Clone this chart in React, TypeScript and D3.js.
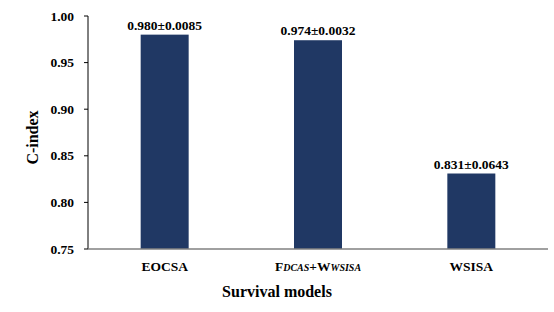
import React from "react";
import * as d3 from "d3";

const categories = ["EOCSA", "FDCAS+WWSISA", "WSISA"];
const values = [0.98, 0.974, 0.831];
const valueLabels = ["0.980±0.0085", "0.974±0.0032", "0.831±0.0643"];
const yTicks = [0.75, 0.8, 0.85, 0.9, 0.95, 1.0];

const W = 554;
const H = 312;
const margin = { left: 88, right: 6, top: 16, bottom: 63 };
const FONT = "'Liberation Serif', 'Times New Roman', serif";

export default function App() {
  const x = d3
    .scaleBand<string>()
    .domain(categories)
    .range([margin.left, W - margin.right])
    .paddingInner(0.687)
    .paddingOuter(0.3435);
  const y = d3.scaleLinear().domain([0.75, 1.0]).range([H - margin.bottom, margin.top]);
  const y0 = y(0.75);

  const renderCat = (c: string) => {
    if (c === "FDCAS+WWSISA") {
      return (
        <>
          <tspan>F</tspan>
          <tspan fontStyle="italic" fontSize={10}>DCAS</tspan>
          <tspan>+W</tspan>
          <tspan fontStyle="italic" fontSize={10}>WSISA</tspan>
        </>
      );
    }
    return c;
  };

  return (
    <svg
      width={W}
      height={H}
      style={{ position: "absolute", left: 0, top: 0, background: "#fff" }}
      fontFamily={FONT}
      fontWeight="bold"
    >
      {categories.map((c, i) => (
        <g key={c}>
          <rect
            x={x(c)}
            y={y(values[i])}
            width={x.bandwidth()}
            height={y0 - y(values[i])}
            fill="#203864"
          />
          <text
            x={(x(c) as number) + x.bandwidth() / 2}
            y={y(values[i]) - 5}
            textAnchor="middle"
            fontSize={13.5}
            fill="#000"
          >
            {valueLabels[i]}
          </text>
          <text
            x={(x(c) as number) + x.bandwidth() / 2}
            y={271}
            textAnchor="middle"
            fontSize={13.5}
            fill="#000"
          >
            {renderCat(c)}
          </text>
        </g>
      ))}
      <line x1={margin.left} x2={margin.left} y1={y(1.0)} y2={y0} stroke="#000" strokeWidth={1} />
      {yTicks.map((t) => (
        <g key={t}>
          <line x1={margin.left - 4} x2={margin.left} y1={y(t)} y2={y(t)} stroke="#000" />
          <text x={74} y={y(t) + 4.5} textAnchor="end" fontSize={13.5} fill="#000">
            {t.toFixed(2)}
          </text>
        </g>
      ))}
      <line x1={margin.left} x2={W - margin.right} y1={y0} y2={y0} stroke="#808080" strokeWidth={1.5} />
      <text
        transform={`translate(38,137.5) rotate(-90)`}
        textAnchor="middle"
        fontSize={16}
        fill="#000"
      >
        C-index
      </text>
      <text x={277} y={297} textAnchor="middle" fontSize={16} fill="#000">
        Survival models
      </text>
    </svg>
  );
}
